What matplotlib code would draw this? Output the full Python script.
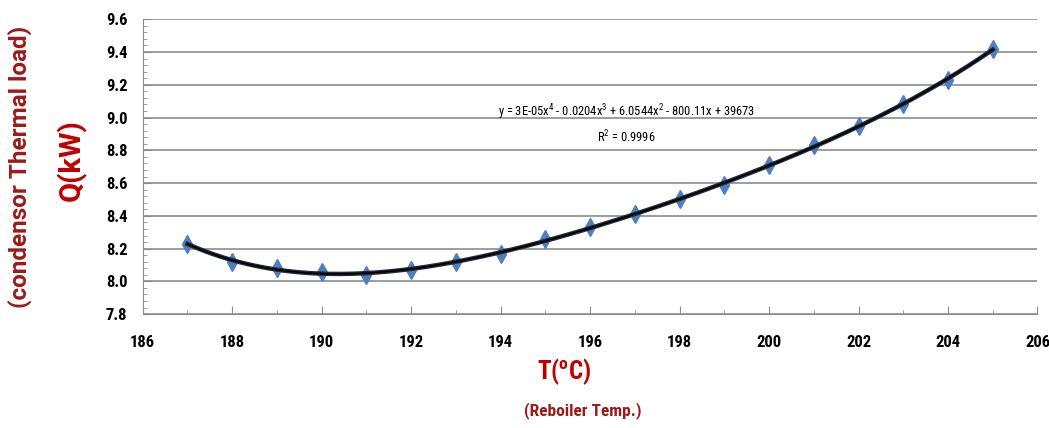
import numpy as np
import matplotlib.pyplot as plt
from matplotlib.ticker import MultipleLocator

# reboiler temperature (C) and condenser load Q (kW)
temp = [187, 188, 189, 190, 191, 192, 193, 194, 195, 196,
        197, 198, 199, 200, 201, 202, 203, 204, 205]
q_kw = [8.23, 8.12, 8.08, 8.06, 8.04, 8.07, 8.12, 8.17, 8.26, 8.33,
        8.41, 8.50, 8.59, 8.71, 8.83, 8.95, 9.08, 9.23, 9.42]

eq_text = "y = 3E-05x$^4$ - 0.0204x$^3$ + 6.0544x$^2$ - 800.11x + 39673"
r2_text = "R$^2$ = 0.9996"

plt.rcParams['font.family'] = ['Liberation Sans Narrow', 'Roboto Condensed', 'Roboto', 'DejaVu Sans']
plt.rcParams['mathtext.default'] = 'regular'
wide = ['Roboto', 'DejaVu Sans']

fig = plt.figure(figsize=(10.49, 4.28), dpi=100)
ax = fig.add_axes([0.136, 0.266, 0.853, 0.689])

# 4th order trendline fitted on the data
coef = np.polyfit(temp, q_kw, 4)
xs = np.linspace(temp[0], temp[-1], 200)
ax.plot(xs, np.polyval(coef, xs), color='#1f2a3a', lw=3.2, zorder=3)
ax.plot(xs, np.polyval(coef, xs), color='black', lw=1.2, zorder=4)
ax.plot(temp, q_kw, 'd', color='#4f7fbf', ms=9, zorder=2)

ax.set_xlim(186, 206)
ax.set_ylim(7.8, 9.6)
ax.xaxis.set_major_locator(MultipleLocator(2))
ax.xaxis.set_minor_locator(MultipleLocator(1))
ax.yaxis.set_major_locator(MultipleLocator(0.2))
ax.yaxis.set_minor_locator(MultipleLocator(0.04))
ax.yaxis.set_major_formatter(plt.FormatStrFormatter('%.1f'))
ax.grid(axis='y', color='#8c8c8c', lw=1.2)
ax.set_axisbelow(True)
for s in ['top', 'right']:
    ax.spines[s].set_visible(False)
ax.spines['left'].set_color('#8c8c8c')
ax.spines['bottom'].set_color('#8c8c8c')
ax.tick_params(axis='both', which='major', labelsize=12, color='#8c8c8c', length=6)
ax.tick_params(axis='both', which='minor', color='#8c8c8c', length=3)
ax.tick_params(axis='both', which='both', direction='in')
ax.tick_params(axis='x', which='major', pad=15)
ax.tick_params(axis='y', which='major', pad=11)
for lbl in ax.get_xticklabels() + ax.get_yticklabels():
    lbl.set_fontweight('bold')

ax.text(0.541, 0.685, eq_text, transform=ax.transAxes, ha='center', va='center', fontsize=9)
ax.text(0.541, 0.60, r2_text, transform=ax.transAxes, ha='center', va='center', fontsize=9)

fig.text(0.068, 0.626, "Q(kW)", rotation=90, color='#c00000', fontsize=21,
         fontweight='bold', ha='center', va='center', family=wide)
fig.text(0.019, 0.61, "(condensor Thermal load)", rotation=90, color='#9b1b1b',
         fontsize=17.5, fontweight='bold', ha='center', va='center', family=wide)
fig.text(0.538, 0.131, "T($^{o}$C)", color='#c00000', fontsize=18,
         ha='center', va='center', fontweight='bold')
fig.text(0.556, 0.04, "(Reboiler Temp.)", color='#9b1b1b', fontsize=12.5,
         ha='center', va='center', fontweight='bold')

fig.savefig('out.png', dpi=100)
